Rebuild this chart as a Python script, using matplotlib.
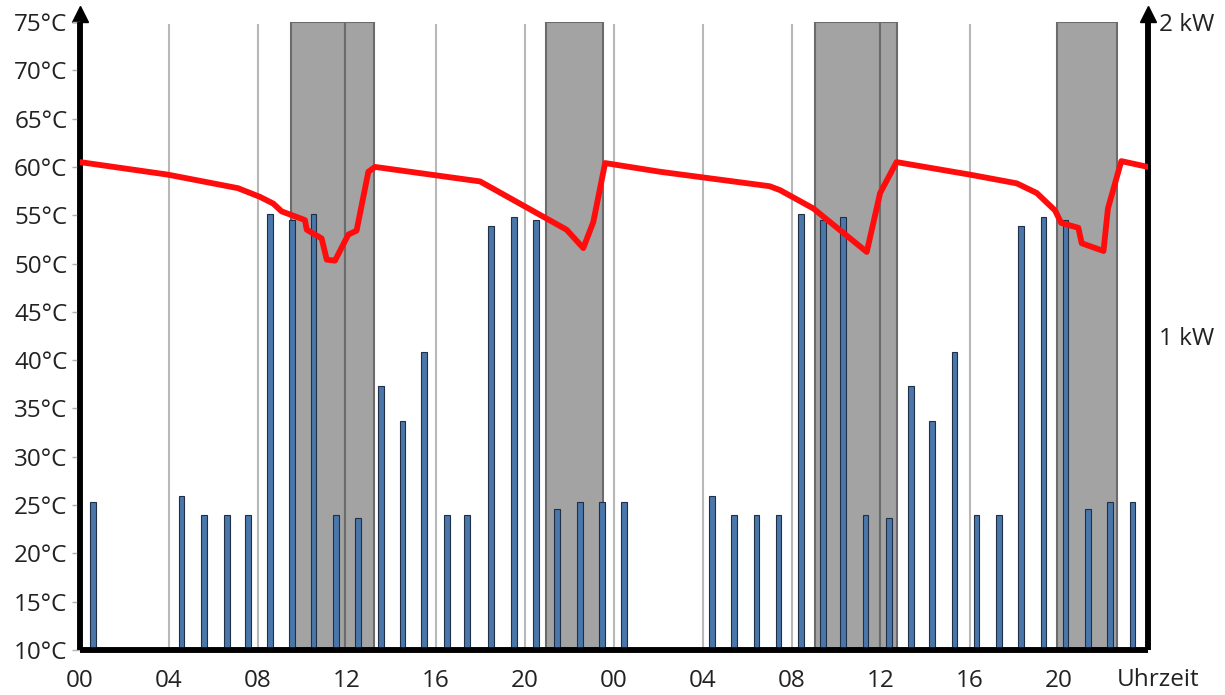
import matplotlib
matplotlib.use("Agg")
import matplotlib.pyplot as plt
from matplotlib.transforms import blended_transform_factory

plt.rcParams['font.family'] = ['Open Sans', 'DejaVu Sans']

# hours since midnight of day 1 (0..48)
bar_hours = [0.58, 4.57, 5.57, 6.6, 7.54, 8.54, 9.53, 10.5, 11.5, 12.5, 13.53, 14.5,
             15.46, 16.5, 17.4, 18.47, 19.5, 20.5, 21.44, 22.47, 23.46, 24.45,
             28.4, 29.4, 30.4, 31.4, 32.4, 33.4, 34.3, 35.3, 36.35, 37.35, 38.3,
             39.3, 40.3, 41.3, 42.3, 43.3, 44.3, 45.3, 46.3, 47.3]
# heating power in kW
bar_kw = [0.47, 0.49, 0.43, 0.43, 0.43, 1.39, 1.37, 1.39, 0.43, 0.42, 0.84, 0.73,
          0.95, 0.43, 0.43, 1.35, 1.38, 1.37, 0.45, 0.47, 0.47, 0.47,
          0.49, 0.43, 0.43, 0.43, 1.39, 1.37, 1.38, 0.43, 0.42, 0.84, 0.73,
          0.95, 0.43, 0.43, 1.35, 1.38, 1.37, 0.45, 0.47, 0.47]

# storage temperature
temp_hours = [0.0, 3.95, 7.1, 8.09, 8.69, 9.06, 10.11, 10.19, 10.86, 11.09, 11.46,
              12.06, 12.43, 12.96, 13.26, 17.98, 21.87, 22.62, 23.07, 23.6, 26.07,
              31.0, 31.46, 32.96, 35.36, 35.96, 36.7, 40.0, 42.1, 43.0, 43.82, 44.1,
              44.87, 45.02, 46.0, 46.2, 46.8, 48.0]
temp_c = [60.5, 59.2, 57.8, 56.9, 56.2, 55.4, 54.5, 53.5, 52.6, 50.4, 50.3,
          53.0, 53.4, 59.5, 60.0, 58.5, 53.5, 51.6, 54.3, 60.4, 59.5,
          58.0, 57.6, 55.7, 51.2, 57.3, 60.5, 59.2, 58.3, 57.3, 55.5, 54.2,
          53.7, 52.1, 51.3, 55.7, 60.6, 60.0]

# shaded blocks (start, end hour)
blocks = [(9.47, 11.93), (11.93, 13.23), (20.95, 23.5),
          (33.05, 35.94), (35.94, 36.7), (43.92, 46.6)]

grid_hours = [4, 8, 12, 16, 20, 24, 28, 32, 36, 40, 44]
xtick_hours = [0, 4, 8, 12, 16, 20, 24, 28, 32, 36, 40, 44]
xtick_labels = ['00', '04', '08', '12', '16', '20', '00', '04', '08', '12', '16', '20']
temp_ticks = list(range(10, 80, 5))
kw_ticks = [1, 2]

fig = plt.figure(figsize=(12.25, 6.95), dpi=100)
ax = fig.add_axes([80/1225, 45/695, 1068/1225, 628/695])   # kW axis (bars)
tw = ax.twinx()                                              # °C axis (line)

# kW axis on the right
ax.set_ylim(0, 2)
ax.set_xlim(0, 48)
for h in grid_hours:
    ax.axvline(h, ymax=0.995, color='#b8b8b8', lw=1.5, zorder=1)
for a, b in blocks:
    ax.axvspan(a, b, ymin=0, ymax=1, facecolor='#a3a3a3', edgecolor='#6b6b6b',
               lw=1.5, zorder=2)
ax.bar(bar_hours, bar_kw, width=0.25, color='#4a76aa', edgecolor='#1f2f45',
       lw=0.8, zorder=3)

tw.plot(temp_hours, temp_c, color='#ff0d0d', lw=4.2, solid_joinstyle='round',
        zorder=4)
tw.set_ylim(10, 75)

# swap sides: temperature left, power right
tw.yaxis.tick_left()
tw.set_yticks(temp_ticks)
tw.set_yticklabels([f'{t}°C' for t in temp_ticks], fontsize=17.5, color='#222222')
tw.tick_params(axis='y', length=6, width=1, color='#b0b0b0', pad=3)

ax.yaxis.tick_right()
ax.set_yticks(kw_ticks)
ax.set_yticklabels([f'{k} kW' for k in kw_ticks], fontsize=17.5, color='#222222')
ax.tick_params(axis='y', length=0, pad=8)

ax.set_xticks(xtick_hours)
ax.set_xticklabels(xtick_labels, fontsize=17.5, color='#222222')
ax.tick_params(axis='x', length=0, pad=14)
tr = blended_transform_factory(ax.transData, ax.transAxes)
ax.text(48.45, -0.028, 'Uhrzeit', transform=tr, ha='center', va='top',
        fontsize=17.5, color='#222222')

for a in (ax, tw):
    a.spines['top'].set_visible(False)
    for s in ('left', 'right', 'bottom'):
        a.spines[s].set_linewidth(4)
        a.spines[s].set_color('black')
        a.spines[s].set_capstyle('butt')

# arrow heads on the vertical axes
ax.plot([0, 1], [1.013, 1.013], marker='^', color='black', markersize=11,
        linestyle='none', transform=ax.transAxes, clip_on=False, zorder=10)

fig.savefig('out.png', dpi=100)
